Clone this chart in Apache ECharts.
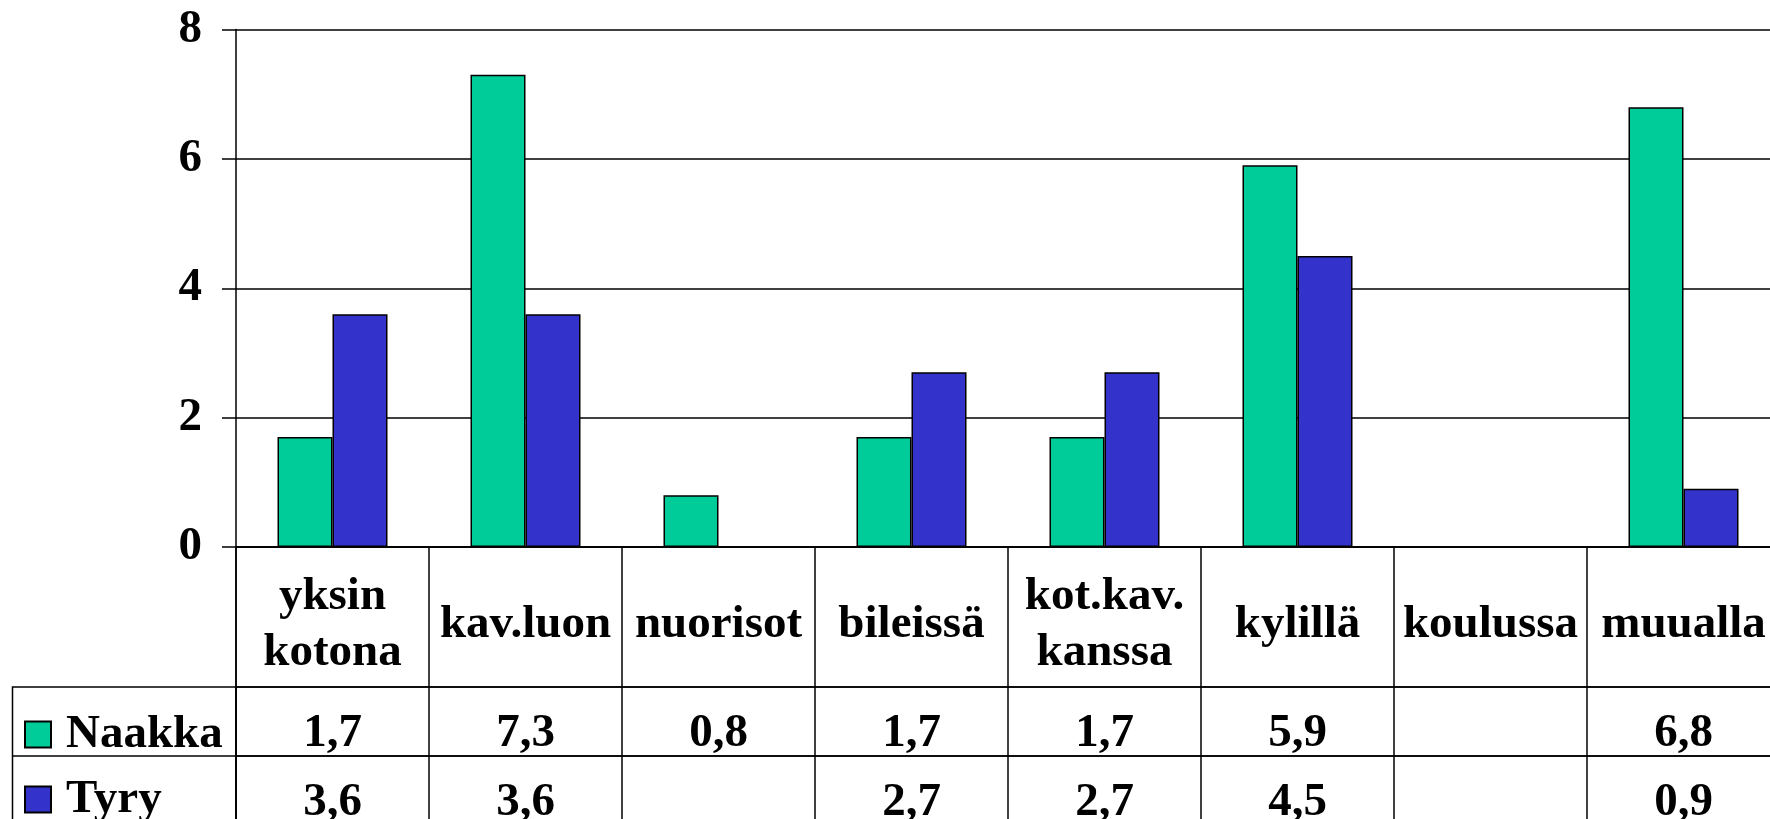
<!DOCTYPE html>
<html>
<head>
<meta charset="utf-8">
<script src="https://cdn.jsdelivr.net/npm/echarts@6/dist/echarts.min.js"></script>
<style>
html,body{margin:0;padding:0;background:#fff;}
#c{width:1770px;height:819px;}
</style>
</head>
<body>
<div id="c"></div>
<script>
// ---- data ----
const categories = ['yksin\nkotona', 'kav.luon', 'nuorisot', 'bileissä', 'kot.kav.\nkanssa', 'kylillä', 'koulussa', 'muualla'];
const seriesNames = ['Naakka', 'Tyry'];
const naakka = [1.7, 7.3, 0.8, 1.7, 1.7, 5.9, null, 6.8];
const tyry = [3.6, 3.6, null, 2.7, 2.7, 4.5, null, 0.9];
const yTicks = [0, 2, 4, 6, 8];

const GREEN = '#00CC99', BLUE = '#3333CC';
const FONT = 'Liberation Serif';
const FS = 47;

// layout
const L = 236, TOP = 29.5, CW = 193;
const W = CW * categories.length;
const AXISY = 547, HDR = 140, ROW = 69;

const fmt = v => (v === null || v === undefined) ? '' : String(v.toFixed(1)).replace('.', ',');

const chart = echarts.init(document.getElementById('c'), null, {renderer: 'canvas'});

const textStyleBase = {fontFamily: FONT, fontWeight: 'bold', fontSize: FS, color: '#000'};

function rowGrid(top, h) {
  return {left: L, top: top, width: W, height: h, show: true, borderColor: '#000', borderWidth: 1.5,
    backgroundColor: 'transparent', outerBoundsMode: 'none', containLabel: false};
}
function rowX(gi) {
  return {type: 'category', gridIndex: gi, data: categories, boundaryGap: true,
    axisLine: {show: false}, axisTick: {show: false}, axisLabel: {show: false},
    splitLine: {show: true, interval: 0, lineStyle: {color: '#000', width: 1.5}}};
}
function rowY(gi) {
  return {type: 'value', gridIndex: gi, min: 0, max: 1, show: false, splitLine: {show: false}};
}
function textSeries(gi, texts, dy, lh) {
  return {
    type: 'custom', xAxisIndex: gi, yAxisIndex: gi, silent: true,
    data: texts.map((t, i) => [i, 0.5]).filter((d, i) => texts[i] !== ''),
    renderItem: (params, api) => {
      const idx = api.value(0);
      const p = api.coord([idx, api.value(1)]);
      return {
        type: 'text', x: p[0], y: p[1] + dy,
        style: {text: texts[idx], fill: '#000', fontFamily: FONT, fontWeight: 'bold', fontSize: FS,
          lineHeight: lh, align: 'center', verticalAlign: 'middle'}
      };
    }
  };
}

const option = {
  backgroundColor: '#fff',
  animation: false,
  grid: [
    {left: L, top: TOP, width: W, height: AXISY - TOP, outerBoundsMode: 'none', containLabel: false},
    rowGrid(AXISY, HDR),
    rowGrid(AXISY + HDR, ROW),
    rowGrid(AXISY + HDR + ROW, ROW)
  ],
  legend: {
    orient: 'vertical', left: 24, top: 711, width: 210, height: 200, padding: 0,
    itemWidth: 26, itemHeight: 26, itemGap: 18,
    icon: 'rect', data: seriesNames,
    textStyle: {...textStyleBase, lineHeight: 26, padding: [0, 0, 0, 10]}
  },
  xAxis: [
    {type: 'category', gridIndex: 0, data: categories,
      axisLine: {lineStyle: {color: '#000', width: 1.5}}, axisTick: {show: false}, axisLabel: {show: false}},
    rowX(1), rowX(2), rowX(3)
  ],
  yAxis: [
    {type: 'value', gridIndex: 0, min: yTicks[0], max: yTicks[yTicks.length - 1], interval: yTicks[1] - yTicks[0],
      axisLine: {show: true, lineStyle: {color: '#000', width: 1.5}},
      axisTick: {show: true, length: 14, lineStyle: {color: '#000', width: 1.5}},
      axisLabel: {...textStyleBase, margin: 34},
      splitLine: {lineStyle: {color: '#000', width: 1.5}}},
    rowY(1), rowY(2), rowY(3)
  ],
  series: [
    {name: seriesNames[0], type: 'bar', xAxisIndex: 0, yAxisIndex: 0, data: naakka, barWidth: 55, barGap: '0%',
      itemStyle: {color: GREEN, borderColor: '#000', borderWidth: 1.5}},
    {name: seriesNames[1], type: 'bar', xAxisIndex: 0, yAxisIndex: 0, data: tyry, barWidth: 55, barGap: '0%',
      itemStyle: {color: BLUE, borderColor: '#000', borderWidth: 1.5}},
    textSeries(1, categories, 8, 56),
    textSeries(2, naakka.map(fmt), 12, 46),
    textSeries(3, tyry.map(fmt), 12, 46)
  ],
  graphic: [
    {type: 'rect', silent: true, shape: {x: 12.5, y: AXISY + HDR, width: L - 12.5, height: ROW * 2},
      style: {fill: 'none', stroke: '#000', lineWidth: 1.5}},
    {type: 'line', silent: true, shape: {x1: 12.5, y1: AXISY + HDR + ROW, x2: L, y2: AXISY + HDR + ROW},
      style: {stroke: '#000', lineWidth: 1.5}}
  ]
};
chart.setOption(option);
</script>
</body>
</html>
